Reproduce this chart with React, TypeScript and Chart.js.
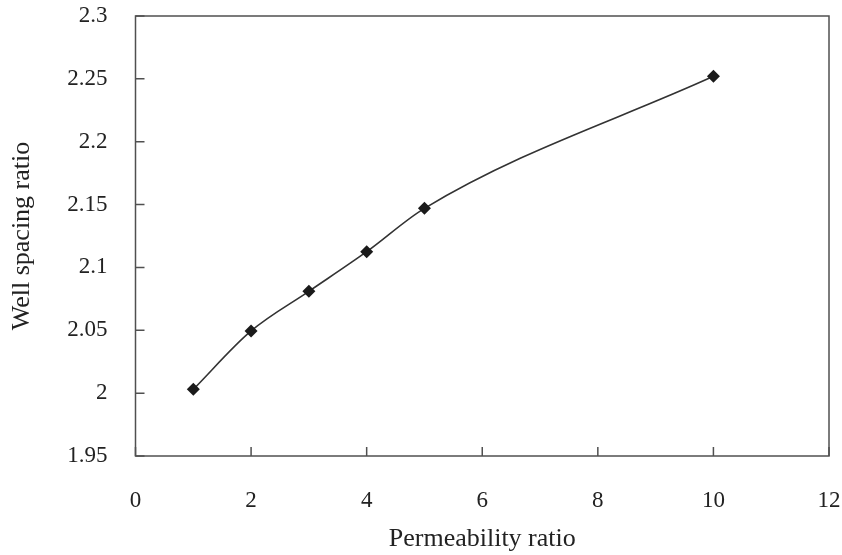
import React, { useEffect, useRef } from "react";
import { Chart, registerables } from "chart.js";

Chart.register(...registerables);

const permeabilityRatio = [1, 2, 3, 4, 5, 10];
const wellSpacingRatio = [2.003, 2.0495, 2.081, 2.1125, 2.147, 2.252];
const xTickRange = { min: 0, max: 12, step: 2 };
const yTickRange = { min: 1.95, max: 2.3, step: 0.05 };
const xTitle = "Permeability ratio";
const yTitle = "Well spacing ratio";

const AXIS_COLOR = "#505050";
const FONT_FAMILY = "'Liberation Serif', 'Times New Roman', serif";

const frameAndTicks = {
  id: "frameAndTicks",
  afterDraw(chart: any) {
    const { ctx, chartArea } = chart;
    const { left, right, top, bottom } = chartArea;
    ctx.save();
    ctx.strokeStyle = AXIS_COLOR;
    ctx.lineWidth = 1.5;
    ctx.strokeRect(left, top, right - left, bottom - top);
    const len = 9;
    const xs = chart.scales.x;
    const ys = chart.scales.y;
    ctx.beginPath();
    xs.ticks.forEach((t: any) => {
      const px = xs.getPixelForValue(t.value);
      ctx.moveTo(px, bottom);
      ctx.lineTo(px, bottom - len);
    });
    ys.ticks.forEach((t: any) => {
      const py = ys.getPixelForValue(t.value);
      ctx.moveTo(left, py);
      ctx.lineTo(left + len, py);
    });
    ctx.stroke();
    ctx.restore();
  },
};

const fmt = (v: any) => parseFloat(Number(v).toFixed(2)).toString();

const zeroPad = (s: any) => {
  s.paddingTop = 0;
  s.paddingBottom = 0;
  s.paddingLeft = 0;
  s.paddingRight = 0;
};

export default function App() {
  const ref = useRef<HTMLCanvasElement | null>(null);

  useEffect(() => {
    if (!ref.current) return;
    const data = permeabilityRatio.map((x, i) => ({ x, y: wellSpacingRatio[i] }));
    const chart = new Chart(ref.current, {
      type: "scatter",
      data: {
        datasets: [
          {
            data,
            showLine: true,
            cubicInterpolationMode: "monotone",
            borderColor: "#333333",
            borderWidth: 1.6,
            pointStyle: "rectRot",
            pointRadius: 6.5,
            pointBackgroundColor: "#1a1a1a",
            pointBorderColor: "#1a1a1a",
            pointBorderWidth: 0,
          } as any,
        ],
      },
      options: {
        animation: false,
        responsive: true,
        maintainAspectRatio: false,
        layout: { padding: { top: 16, right: 13, left: 0, bottom: 0 } },
        plugins: { legend: { display: false }, tooltip: { enabled: false } },
        scales: {
          x: {
            type: "linear",
            min: xTickRange.min,
            max: xTickRange.max,
            grid: { display: false, drawTicks: false },
            border: { display: false },
            ticks: {
              stepSize: xTickRange.step,
              padding: 31,
              color: "#222",
              font: { family: FONT_FAMILY, size: 23 },
              callback: (v: any) => fmt(v),
            },
            title: {
              display: true,
              text: xTitle,
              color: "#222",
              font: { family: FONT_FAMILY, size: 26 },
              padding: { top: 0, bottom: 0 },
            },
            afterFit: (s: any) => {
              s.height = 99;
              zeroPad(s);
            },
          },
          y: {
            type: "linear",
            min: yTickRange.min,
            max: yTickRange.max,
            grid: { display: false, drawTicks: false },
            border: { display: false },
            ticks: {
              stepSize: yTickRange.step,
              padding: 28,
              color: "#222",
              font: { family: FONT_FAMILY, size: 23 },
              callback: (v: any) => fmt(v),
            },
            title: {
              display: true,
              text: yTitle,
              color: "#222",
              font: { family: FONT_FAMILY, size: 26 },
              padding: { top: 7, bottom: 0 },
            },
            afterFit: (s: any) => {
              s.width = 135.5;
              zeroPad(s);
            },
          },
        },
      },
      plugins: [frameAndTicks],
    });
    return () => chart.destroy();
  }, []);

  return (
    <div style={{ position: "absolute", left: 0, top: 0, width: 842, height: 555, background: "#fff" }}>
      <canvas ref={ref} />
    </div>
  );
}
